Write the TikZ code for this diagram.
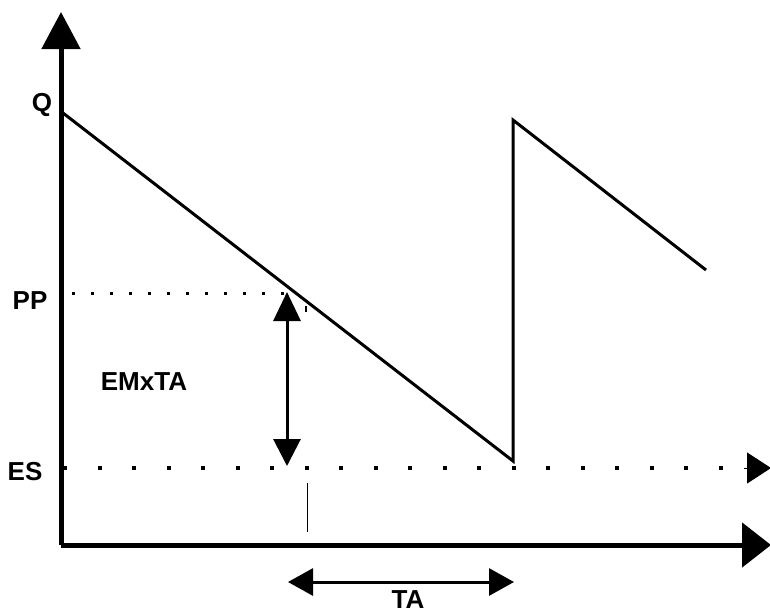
\documentclass[tikz,border=0pt]{standalone}
\usepackage{fontspec}
\setmainfont{Liberation Sans}
\usetikzlibrary{arrows.meta}
\begin{document}
\begin{tikzpicture}[x=1pt,y=-1pt,
  axis/.style={line width=5pt},
  saw/.style={line width=3pt, line join=miter},
  dim/.style={line width=3pt},
  lbl/.style={font=\fontsize{26}{29}\selectfont\bfseries, inner sep=0pt},
  esdots/.style={line width=4pt, dash pattern=on 4pt off 30.5pt},
  ppdots/.style={line width=3pt, dash pattern=on 3pt off 16pt}]
\useasboundingbox (0,0) rectangle (770,613);

% axes
\coordinate (O) at (61,545);
\coordinate (ytop) at (61,12);
\coordinate (xend) at (771,545);
\draw[axis, -{Triangle[length=37pt,width=38pt]}] (O) -- (ytop);
\draw[axis, -{Triangle[length=29pt,width=44pt]}] (O) -- (xend);

% stock level (sawtooth)
\coordinate (q0) at (63,113);
\coordinate (low) at (513,461);
\coordinate (q1) at (513,120);
\coordinate (q2) at (706,270);
\draw[saw] (q0) -- (low) -- (q1) -- (q2);

% reorder point and safety stock levels
\coordinate (pp0) at (72,293);
\coordinate (pp1) at (286,293);
\draw[ppdots] (pp0) -- (pp1);
\coordinate (es0) at (63,468);
\coordinate (es1) at (744,468);
\coordinate (esend) at (771,468);
\draw[esdots] (es0) -- (es1);
\draw[line width=1pt, -{Triangle[length=24pt,width=31pt]}] (es1) -- (esend);

% lead-time demand
\coordinate (d0) at (287,292);
\coordinate (d1) at (287,466);
\draw[dim, {Triangle[length=29pt,width=27pt]}-{Triangle[length=27pt,width=27pt]}] (d0) -- (d1);

% lead time
\coordinate (t0) at (288,582);
\coordinate (t1) at (514,582);
\draw[dim, {Triangle[length=25pt,width=27pt]}-{Triangle[length=25pt,width=27pt]}] (t0) -- (t1);

% order instant marks
\coordinate (m0) at (307,483);
\coordinate (m1) at (307,532);
\draw[line width=1pt] (m0) -- (m1);
\coordinate (n0) at (306,306);
\coordinate (n1) at (306,312);
\draw[line width=1.2pt] (n0) -- (n1);

% labels
\node[lbl] (Q) at (42,105) {Q};
\node[lbl] (PP) at (30,301) {PP};
\node[lbl] (ES) at (25,472) {ES};
\node[lbl] (EM) at (144,382) {EMxTA};
\node[lbl] (TA) at (408,600) {TA};
\end{tikzpicture}
\end{document}
